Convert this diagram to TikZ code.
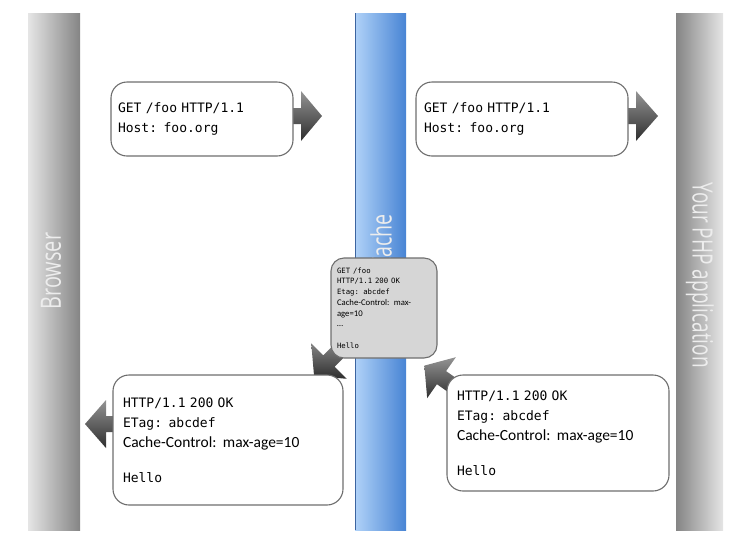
\documentclass[tikz,border=0pt]{standalone}
\usepackage{fontspec}
\setmainfont{Open Sans}
\newfontfamily\monof{DejaVu Sans Mono}
\newfontfamily\calf{Carlito}
\newfontfamily\barf{Open Sans}
\usetikzlibrary{shadings}
\newcommand\cmono[1]{{\monof\fontsize{7.3}{10.7}\selectfont #1}}
\newcommand\bigcal[1]{{\calf\fontsize{15.5}{20}\selectfont #1}}
\definecolor{boxline}{RGB}{110,110,110}
\definecolor{cachel}{RGB}{176,210,248}
\definecolor{cacher}{RGB}{72,132,212}
\definecolor{cacheedge}{RGB}{60,100,160}
\tikzset{
  msgbox/.style={draw=boxline, line width=1.1pt, fill=white, rounded corners=16pt,
    align=left, inner ysep=0pt, font=\monof\fontsize{13}{20}\selectfont},
  cachebox/.style={draw=boxline, line width=1.1pt, fill=black!16, rounded corners=13pt,
    align=left, inner ysep=0pt, inner xsep=6pt, text width=94pt, minimum height=100pt,
    font=\calf\fontsize{8.7}{10.7}\selectfont},
  arrowshade/.style={top color=black!42, bottom color=black!82},
  barlabel/.style={inner sep=0pt, text=white!93!black, font=\barf\fontsize{28}{30}\selectfont},
}
\begin{document}
\begin{tikzpicture}[x=1pt,y=-1pt]
\useasboundingbox (0,0) rectangle (747,539);
% bars
\shade[left color=black!10, right color=black!48] (28,13) rectangle (80,530);
\shade[left color=cachel, right color=cacher] (355,13) rectangle (406,530);
\draw[cacheedge, line width=0.6pt] (355,13) -- (355,530);
\shade[left color=black!48, right color=black!10] (676,13) rectangle (723,530);
% bar labels
\node[barlabel, rotate=90] (blabel) at (51,271) {\scalebox{0.71}[1]{Browser}};
\node[barlabel, rotate=-90] (plabel) at (700,275) {\scalebox{0.68}[1]{Your PHP application}};
\node[barlabel, rotate=90, anchor=east] (clabel) at (381,214) {\scalebox{0.7}[1]{Cache}};
% block arrows
\begin{scope}[shift={(290,116)}]
  \shade[arrowshade] (0,-8) -- (11,-8) -- (11,-25) -- (32,0) -- (11,25) -- (11,8) -- (0,8) -- cycle;
\end{scope}
\begin{scope}[shift={(625,116)}]
  \shade[arrowshade] (0,-8) -- (11,-8) -- (11,-25) -- (33,0) -- (11,25) -- (11,8) -- (0,8) -- cycle;
\end{scope}
\begin{scope}[shift={(116,424)}, rotate=180]
  \shade[arrowshade] (0,-8) -- (10,-8) -- (10,-24) -- (31,0) -- (10,24) -- (10,8) -- (0,8) -- cycle;
\end{scope}
\begin{scope}[shift={(348,342)}, rotate=225]
  \shade[arrowshade] (0,-8) -- (27,-8) -- (27,-25) -- (48,0) -- (27,25) -- (27,8) -- (0,8) -- cycle;
\end{scope}
\begin{scope}[shift={(462,392)}, rotate=145]
  \shade[arrowshade] (0,-8) -- (25,-8) -- (25,-25) -- (46,0) -- (25,25) -- (25,8) -- (0,8) -- cycle;
\end{scope}
% message boxes
\node[msgbox, inner xsep=7pt, text width=168pt, minimum height=74pt] (req1) at (202,119)
  {GET /foo HTTP/1.1\\Host: foo.org};
\node[msgbox, inner xsep=8pt, text width=196pt, minimum height=74pt] (req2) at (522,119)
  {GET /foo HTTP/1.1\\Host: foo.org};
\node[cachebox] (cache) at (384,308)
  {\cmono{GET /foo}\\\cmono{HTTP/1.1 200 OK}\\\cmono{Etag: abcdef}\\Cache-Control: max-\\age=10\\…\\[10.7pt]\cmono{Hello}};
\node[msgbox, inner xsep=10pt, text width=210pt, minimum height=130pt] (resp1) at (228,440)
  {HTTP/1.1 200 OK\\ETag: abcdef\\\bigcal{Cache-Control: max-age=10}\\[15pt]Hello};
\node[msgbox, inner xsep=10pt, text width=202pt, minimum height=116pt] (resp2) at (558,433)
  {HTTP/1.1 200 OK\\ETag: abcdef\\\bigcal{Cache-Control: max-age=10}\\[15pt]Hello};
\end{tikzpicture}
\end{document}
